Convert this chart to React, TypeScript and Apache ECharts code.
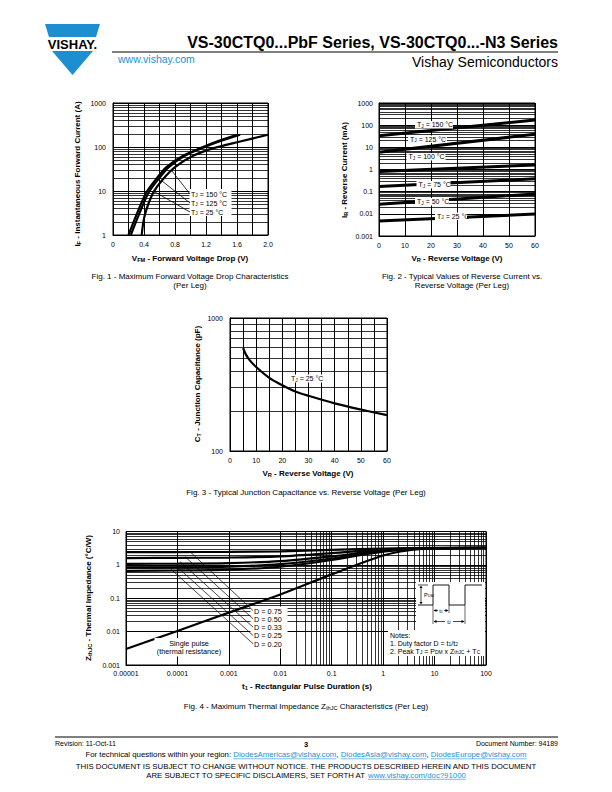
import React, { useEffect, useRef } from "react";
import * as echarts from "echarts";

const FONT = "'Liberation Sans', Arial, Helvetica, sans-serif";
const BLUE = "#1d8fd1";

// ---------- Fig. 1 : forward voltage drop ----------
const fig1Current = [1, 2.8, 9.2, 19, 35, 64, 93, 133, 190];
const fig1VoltsTj150 = [0.2, 0.3, 0.43, 0.56, 0.69, 0.91, 1.12, 1.34, 1.6];
const fig1VoltsTj125 = [0.23, 0.33, 0.46, 0.59, 0.72, 0.93, 1.14, 1.37, 1.64];
const fig1VoltsTj25 = [0.37, 0.41, 0.52, 0.65, 0.8, 1.04, 1.29, 1.64, 2.0];
const fig1XTicks = ["0", "0.4", "0.8", "1.2", "1.6", "2.0"];
const fig1YTicks = ["1", "10", "100", "1000"];

// ---------- Fig. 2 : reverse current ----------
const fig2Volts = [0, 60];
const fig2Tj150 = [33, 170];
const fig2Tj125 = [6, 39];
const fig2Tj100 = [0.81, 1.6];
const fig2Tj75 = [0.17, 0.38];
const fig2Tj50 = [0.027, 0.079];
const fig2Tj25 = [0.0048, 0.0098];
const fig2XTicks = ["0", "10", "20", "30", "40", "50", "60"];
const fig2YTicks = ["0.001", "0.01", "0.1", "1", "10", "100", "1000"];

// ---------- Fig. 3 : junction capacitance ----------
const fig3Volts = [5, 6, 7.5, 10, 15, 20, 25, 30, 40, 50, 60];
const fig3Cap = [595, 535, 482, 428, 355, 312, 280, 260, 228, 205, 186];
const fig3XTicks = ["0", "10", "20", "30", "40", "50", "60"];
const fig3YTicks = ["100", "1000"];

// ---------- Fig. 4 : thermal impedance ----------
const fig4Time = [1e-5, 1e-4, 1e-3, 1e-2, 0.1, 1, 10, 100];
const fig4D075 = [2.4, 2.42, 2.45, 2.55, 2.8, 3.1, 3.22, 3.25];
const fig4D050 = [1.6, 1.62, 1.66, 1.8, 2.25, 2.9, 3.2, 3.25];
const fig4D033 = [1.07, 1.09, 1.13, 1.3, 1.8, 2.75, 3.18, 3.25];
const fig4D025 = [0.82, 0.84, 0.88, 1.05, 1.55, 2.6, 3.17, 3.25];
const fig4D020 = [0.66, 0.68, 0.72, 0.88, 1.4, 2.5, 3.15, 3.25];
const fig4SingleTime = [1e-5, 1e-4, 1e-3, 1e-2, 0.1, 1, 3, 10, 100];
const fig4Single = [0.003, 0.0105, 0.037, 0.13, 0.52, 1.9, 2.7, 3.1, 3.25];
const fig4XTicks = ["0.00001", "0.0001", "0.001", "0.01", "0.1", "1", "10", "100"];
const fig4YTicks = ["0.001", "0.01", "0.1", "1", "10"];
const fig4DLabels = ["D = 0.75", "D = 0.50", "D = 0.33", "D = 0.25", "D = 0.20"];

// minor grid positions (2..9 within each decade)
function minorLog(fromExp: number, toExp: number) {
  const out: number[] = [];
  for (let e = fromExp; e < toExp; e++) {
    for (let m = 2; m <= 9; m++) out.push(m * Math.pow(10, e));
  }
  return out;
}

const logFmt = (labels: string[]) => (v: number) =>
  labels.find((l) => Math.abs(Math.log10(parseFloat(l)) - Math.log10(v)) < 1e-6) ?? "";

const pairs = (xs: number[], ys: number[]) => xs.map((x, i) => [x, ys[i]]);

function axisCommon(idx: number) {
  return {
    gridIndex: idx,
    axisLine: { show: true, lineStyle: { color: "#000", width: 1 } },
    axisTick: { show: false },
    splitLine: { show: true, lineStyle: { color: "#000", width: 1 } },
    minorSplitLine: { show: false },
  };
}

const labelStyle = (margin: number) => ({
  fontSize: 7,
  color: "#000",
  fontFamily: FONT,
  margin,
});

function curve(idx: number, data: number[][], width: number, smooth: number | boolean, extra: any = {}) {
  return {
    type: "line",
    xAxisIndex: idx,
    yAxisIndex: idx,
    data,
    symbol: "none",
    showSymbol: false,
    smooth,
    silent: true,
    lineStyle: { color: "#000", width },
    ...extra,
  };
}

function gridLines(xs: number[], ys: number[]) {
  return {
    markLine: {
      silent: true,
      symbol: ["none", "none"],
      label: { show: false },
      lineStyle: { color: "#000", width: 0.8, type: "solid" },
      emphasis: { disabled: true },
      data: [...xs.map((v) => ({ xAxis: v })), ...ys.map((v) => ({ yAxis: v }))],
    },
  };
}

// ---------- graphic helpers ----------
function txt(x: number, y: number, text: string, o: any = {}) {
  const align = o.align ?? "center";
  return {
    type: "text",
    x,
    y,
    z: 102,
    rotation: o.rotation ?? 0,
    silent: true,
    style: {
      text,
      fill: o.fill ?? "#000",
      fontSize: o.size ?? 7,
      fontWeight: o.bold ? "bold" : "normal",
      fontFamily: FONT,
      align,
      textAlign: align,
      verticalAlign: "middle",
      textVerticalAlign: "middle",
      rich: o.rich,
    },
  };
}
function rect(x: number, y: number, w: number, h: number, fill = "#fff") {
  return { type: "rect", z: 100, silent: true, shape: { x, y, width: w, height: h }, style: { fill } };
}
function ln(x1: number, y1: number, x2: number, y2: number, w = 0.8, color = "#000") {
  return { type: "line", z: 101, silent: true, shape: { x1, y1, x2, y2 }, style: { stroke: color, lineWidth: w } };
}
function poly(points: number[][], fill: string) {
  return { type: "polygon", z: 101, silent: true, shape: { points }, style: { fill } };
}
function pline(points: number[][], w = 0.8) {
  return { type: "polyline", z: 101, silent: true, shape: { points }, style: { stroke: "#000", lineWidth: w, fill: "none" } };
}

const richSmall = (size: number, bold = false) => ({
  n: { fontSize: size, fontFamily: FONT, fontWeight: bold ? "bold" : "normal", fill: "#000" },
  s: {
    fontSize: size * 0.7,
    fontFamily: FONT,
    fontWeight: bold ? "bold" : "normal",
    fill: "#000",
    verticalAlign: "bottom",
    padding: [size * 0.45, 0, 0, 0],
  },
});

function tjLabel(x: number, y: number, temp: string, align = "left") {
  return txt(x, y, `{n|T}{s|J}{n| = ${temp} °C}`, { align, rich: richSmall(7) });
}

let measureCtx: CanvasRenderingContext2D | null = null;
function measure(s: string, size: number) {
  if (!measureCtx) measureCtx = document.createElement("canvas").getContext("2d");
  if (!measureCtx) return s.length * size * 0.5;
  measureCtx.font = `${size}px ${FONT}`;
  return measureCtx.measureText(s).width;
}

// centred line made of black / blue (underlined) segments
function linkLine(graphics: any[], cx: number, y: number, size: number, segs: [string, boolean][]) {
  const widths = segs.map(([s]) => measure(s, size));
  const total = widths.reduce((a, b) => a + b, 0);
  let x = cx - total / 2;
  segs.forEach(([s, link], i) => {
    graphics.push(txt(x, y, s, { size, align: "left", fill: link ? BLUE : "#000" }));
    if (link) graphics.push(ln(x, y + size * 0.55, x + widths[i], y + size * 0.55, 0.6, BLUE));
    x += widths[i];
  });
}

function buildOption() {
  const graphics: any[] = [];

  // ---------- header ----------
  graphics.push(poly([[45, 24], [100, 24], [96, 37], [49, 37]], BLUE));
  graphics.push(poly([[52, 51], [93, 51], [72.5, 75]], BLUE));
  graphics.push(txt(72.5, 44.5, "VISHAY.", { size: 13, bold: true }));
  graphics.push(txt(558, 42, "VS-30CTQ0...PbF Series, VS-30CTQ0...-N3 Series", { size: 16, bold: true, align: "right" }));
  graphics.push(ln(112, 52, 558, 52, 1));
  graphics.push(txt(118, 58.5, "www.vishay.com", { size: 10.5, align: "left", fill: BLUE }));
  graphics.push(txt(558, 62, "Vishay Semiconductors", { size: 14, align: "right" }));

  // ---------- Fig 1 ----------
  graphics.push(txt(190, 258, "{n|V}{s|FM}{n| - Forward Voltage Drop (V)}", { rich: richSmall(8, true) }));
  graphics.push(
    txt(77, 174, "{n|I}{s|F}{n| - Instantaneous Forward Current (A)}", { rich: richSmall(8, true), rotation: Math.PI / 2 })
  );
  graphics.push(txt(190, 276, "Fig. 1 - Maximum Forward Voltage Drop Characteristics", { size: 8 }));
  graphics.push(txt(190, 285, "(Per Leg)", { size: 8 }));
  graphics.push(rect(189.5, 189, 42, 27));
  graphics.push(ln(190, 194, 172, 171));
  graphics.push(ln(190, 203, 162, 181));
  graphics.push(ln(190, 212, 154, 191.5));
  graphics.push(tjLabel(191, 194, "150"));
  graphics.push(tjLabel(191, 203, "125"));
  graphics.push(tjLabel(191, 212, "25"));

  // ---------- Fig 2 ----------
  graphics.push(txt(457, 258, "{n|V}{s|R}{n| - Reverse Voltage (V)}", { rich: richSmall(8, true) }));
  graphics.push(
    txt(344, 170, "{n|I}{s|R}{n| - Reverse Current (mA)}", { rich: richSmall(8, true), rotation: Math.PI / 2 })
  );
  graphics.push(txt(462, 276, "Fig. 2 - Typical Values of Reverse Current vs.", { size: 8 }));
  graphics.push(txt(462, 285, "Reverse Voltage (Per Leg)", { size: 8 }));
  const f2lab: [number, number, number, string][] = [
    [415, 121, 38, "150"],
    [408, 135.5, 39, "125"],
    [406.5, 153, 39, "100"],
    [416.5, 181, 34, "75"],
    [415, 198, 34, "50"],
    [435, 212.5, 32, "25"],
  ];
  f2lab.forEach(([x, y, w, t]) => {
    graphics.push(rect(x, y, w, 7.5));
    graphics.push(tjLabel(x + 2, y + 3.9, t));
  });

  // ---------- Fig 3 ----------
  graphics.push(txt(308, 473, "{n|V}{s|R}{n| - Reverse Voltage (V)}", { rich: richSmall(8, true) }));
  graphics.push(
    txt(197, 384, "{n|C}{s|T}{n| - Junction Capacitance (pF)}", { rich: richSmall(8, true), rotation: Math.PI / 2 })
  );
  graphics.push(txt(306, 492, "Fig. 3 - Typical Junction Capacitance vs. Reverse Voltage (Per Leg)", { size: 8 }));
  graphics.push(rect(290, 374.5, 34, 8));
  graphics.push(tjLabel(291, 378.5, "25"));

  // ---------- Fig 4 ----------
  graphics.push(txt(307, 686, "{n|t}{s|1}{n| - Rectangular Pulse Duration (s)}", { rich: richSmall(8, true) }));
  graphics.push(
    txt(88, 598, "{n|Z}{s|thJC}{n| - Thermal Impedance (°C/W)}", { rich: richSmall(8, true), rotation: Math.PI / 2 })
  );
  graphics.push(
    txt(306, 706, "{n|Fig. 4 - Maximum Thermal Impedance Z}{s|thJC}{n| Characteristics (Per Leg)}", { rich: richSmall(8) })
  );
  // D leader lines + labels
  const dStarts = [[190, 551.7], [185, 556.7], [180, 561.7], [175, 565], [170, 568.3]];
  const dEnds = [611, 619.3, 627.6, 635.9, 644.2];
  graphics.push(rect(250.5, 606.5, 37, 42));
  dStarts.forEach(([x, y], i) => {
    graphics.push(ln(x, y, 253, dEnds[i] - 0.5, 0.7));
    graphics.push(txt(254, dEnds[i], fig4DLabels[i], { size: 7.3, align: "left" }));
  });
  // single pulse box
  graphics.push(rect(154.5, 638, 69, 18.5));
  graphics.push(txt(189, 643, "Single pulse", { size: 7.3 }));
  graphics.push(txt(189, 651.5, "(thermal resistance)", { size: 7.3 }));
  // notes box (L shaped)
  graphics.push(rect(416, 582, 69, 50));
  graphics.push(rect(388, 630, 97, 26));
  graphics.push(txt(390, 635, "Notes:", { size: 7, align: "left" }));
  graphics.push(txt(390, 643, "{n|1. Duty factor D = t}{s|1}{n|/t}{s|2}", { align: "left", rich: richSmall(7) }));
  graphics.push(
    txt(390, 651, "{n|2. Peak T}{s|J}{n| = P}{s|DM}{n| x Z}{s|thJC}{n| + T}{s|C}", { align: "left", rich: richSmall(7) })
  );
  // pulse diagram
  graphics.push(pline([[418, 605], [433, 605], [433, 585], [449, 585], [449, 605], [465, 605], [465, 585], [482, 585]], 0.9));
  graphics.push(ln(418, 585, 428, 585, 0.7));
  graphics.push(ln(421, 587, 421, 603, 0.7));
  graphics.push(poly([[419.5, 588], [422.5, 588], [421, 585.5]], "#000"));
  graphics.push(poly([[419.5, 602], [422.5, 602], [421, 604.5]], "#000"));
  graphics.push(txt(424, 595, "{n|P}{s|DM}", { align: "left", rich: richSmall(5.5) }));
  graphics.push(ln(433, 605, 433, 624, 0.6));
  graphics.push(ln(449, 605, 449, 613, 0.6));
  graphics.push(ln(465, 605, 465, 624, 0.6));
  graphics.push(ln(434, 610.5, 438, 610.5, 0.7));
  graphics.push(ln(444, 610.5, 448, 610.5, 0.7));
  graphics.push(poly([[433.5, 610.5], [436.5, 609], [436.5, 612]], "#000"));
  graphics.push(poly([[448.5, 610.5], [445.5, 609], [445.5, 612]], "#000"));
  graphics.push(txt(441, 610.5, "{n|t}{s|1}", { rich: richSmall(5.5) }));
  graphics.push(ln(434, 621.5, 445, 621.5, 0.7));
  graphics.push(ln(453, 621.5, 464, 621.5, 0.7));
  graphics.push(poly([[433.5, 621.5], [436.5, 620], [436.5, 623]], "#000"));
  graphics.push(poly([[464.5, 621.5], [461.5, 620], [461.5, 623]], "#000"));
  graphics.push(txt(449, 621.5, "{n|t}{s|2}", { rich: richSmall(5.5) }));

  // ---------- footer ----------
  graphics.push(ln(55, 737, 558, 737, 1));
  graphics.push(txt(55, 743, "Revision: 11-Oct-11", { size: 7, align: "left" }));
  graphics.push(txt(306, 744, "3", { size: 7.5, bold: true }));
  graphics.push(txt(558, 743, "Document Number: 94189", { size: 7, align: "right" }));
  linkLine(graphics, 306, 754.5, 7.8, [
    ["For technical questions within your region: ", false],
    ["DiodesAmericas@vishay.com", true],
    [", ", false],
    ["DiodesAsia@vishay.com", true],
    [", ", false],
    ["DiodesEurope@vishay.com", true],
  ]);
  graphics.push(
    txt(306, 766, "THIS DOCUMENT IS SUBJECT TO CHANGE WITHOUT NOTICE. THE PRODUCTS DESCRIBED HEREIN AND THIS DOCUMENT", {
      size: 7.8,
    })
  );
  linkLine(graphics, 306, 775, 7.8, [
    ["ARE SUBJECT TO SPECIFIC DISCLAIMERS, SET FORTH AT ", false],
    ["www.vishay.com/doc?91000", true],
  ]);

  const gridBase = { show: true, borderColor: "#000", borderWidth: 1, containLabel: false };

  return {
    animation: false,
    backgroundColor: "#fff",
    grid: [
      { ...gridBase, left: 113, top: 103, width: 155, height: 132 },
      { ...gridBase, left: 379, top: 103, width: 156, height: 133 },
      { ...gridBase, left: 230, top: 318, width: 157, height: 133 },
      { ...gridBase, left: 126, top: 531.5, width: 360, height: 133.5 },
    ],
    xAxis: [
      {
        ...axisCommon(0),
        type: "value",
        min: 0,
        max: 2,
        interval: 0.2,
        axisLabel: {
          ...labelStyle(6),
          formatter: (v: number) => {
            const s = v === 0 ? "0" : v.toFixed(1);
            return fig1XTicks.includes(s) ? s : "";
          },
        },
      },
      {
        ...axisCommon(1),
        type: "value",
        min: 0,
        max: 60,
        interval: 10,
        axisLabel: { ...labelStyle(6), formatter: (v: number) => (fig2XTicks.includes(String(Math.round(v))) ? String(Math.round(v)) : "") },
      },
      {
        ...axisCommon(2),
        type: "value",
        min: 0,
        max: 60,
        interval: 5,
        axisLabel: { ...labelStyle(6), formatter: (v: number) => (fig3XTicks.includes(String(Math.round(v))) ? String(Math.round(v)) : "") },
      },
      {
        ...axisCommon(3),
        type: "log",
        logBase: 10,
        min: 0.00001,
        max: 100,
        axisLabel: { ...labelStyle(5), formatter: logFmt(fig4XTicks) },
      },
    ],
    yAxis: [
      { ...axisCommon(0), type: "log", logBase: 10, min: 1, max: 1000, axisLabel: { ...labelStyle(7), formatter: logFmt(fig1YTicks) } },
      { ...axisCommon(1), type: "log", logBase: 10, min: 0.001, max: 1000, axisLabel: { ...labelStyle(6), formatter: logFmt(fig2YTicks) } },
      { ...axisCommon(2), type: "log", logBase: 10, min: 100, max: 1000, axisLabel: { ...labelStyle(7), formatter: logFmt(fig3YTicks) } },
      { ...axisCommon(3), type: "log", logBase: 10, min: 0.001, max: 10, axisLabel: { ...labelStyle(6), formatter: logFmt(fig4YTicks) } },
    ],
    series: [
      // Fig 1
      curve(0, pairs(fig1VoltsTj150, fig1Current), 2.2, 0.3, gridLines([], minorLog(0, 3))),
      curve(0, pairs(fig1VoltsTj125, fig1Current), 2.2, 0.3),
      curve(0, pairs(fig1VoltsTj25, fig1Current), 2.2, 0.3),
      // Fig 2
      curve(1, pairs(fig2Volts, fig2Tj150), 3, false, gridLines([], minorLog(-3, 3))),
      curve(1, pairs(fig2Volts, fig2Tj125), 3, false),
      curve(1, pairs(fig2Volts, fig2Tj100), 3, false),
      curve(1, pairs(fig2Volts, fig2Tj75), 3, false),
      curve(1, pairs(fig2Volts, fig2Tj50), 3, false),
      curve(1, pairs(fig2Volts, fig2Tj25), 3, false),
      // Fig 3
      curve(2, pairs(fig3Volts, fig3Cap), 2.2, 0.3, gridLines([], minorLog(2, 3))),
      // Fig 4
      curve(3, pairs(fig4Time, fig4D075), 2.2, 0.3, gridLines(minorLog(-5, 2), minorLog(-3, 1))),
      curve(3, pairs(fig4Time, fig4D050), 2.2, 0.3),
      curve(3, pairs(fig4Time, fig4D033), 2.2, 0.3),
      curve(3, pairs(fig4Time, fig4D025), 2.2, 0.3),
      curve(3, pairs(fig4Time, fig4D020), 2.2, 0.3),
      curve(3, pairs(fig4SingleTime, fig4Single), 2.2, 0.3),
    ],
    graphic: { elements: graphics },
  };
}

export default function App() {
  const ref = useRef<HTMLDivElement>(null);
  useEffect(() => {
    const chart = echarts.init(ref.current!, null, { renderer: "svg" });
    chart.setOption(buildOption() as any);
    return () => chart.dispose();
  }, []);
  return (
    <div
      ref={ref}
      style={{ position: "absolute", left: 0, top: 0, width: 612, height: 792, background: "#fff" }}
    />
  );
}
